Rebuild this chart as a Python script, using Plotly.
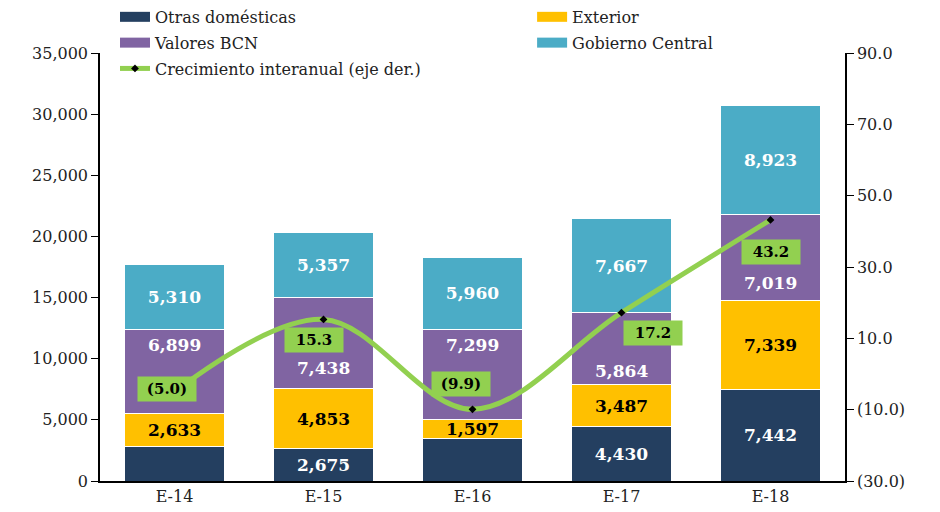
import plotly.graph_objects as go

# Datos (millones)
periodos = ["E-14", "E-15", "E-16", "E-17", "E-18"]
otras_domesticas = [2850, 2675, 3460, 4430, 7442]
exterior = [2633, 4853, 1597, 3487, 7339]
valores_bcn = [6899, 7438, 7299, 5864, 7019]
gobierno_central = [5310, 5357, 5960, 7667, 8923]
crecimiento = [-5.0, 15.3, -9.9, 17.2, 43.2]

# etiquetas que se muestran en las barras
mostrar_otras = [False, True, False, True, True]

y2_ticks = [-30, -10, 10, 30, 50, 70, 90]
y2_ticktext = ["(30.0)", "(10.0)", "10.0", "30.0", "50.0", "70.0", "90.0"]

FONT = "DejaVu Serif"
C_NAVY = "#243F60"
C_AMARILLO = "#FFC000"
C_MORADO = "#8064A2"
C_CELESTE = "#4BACC6"
C_VERDE = "#92D050"


def fmt(v):
    return f"{v:,.0f}"


def fmt_pct(v):
    return f"({abs(v):.1f})" if v < 0 else f"{v:.1f}"


fig = go.Figure()

series = [
    ("Otras domésticas", otras_domesticas, C_NAVY, "legend"),
    ("Exterior", exterior, C_AMARILLO, "legend2"),
    ("Valores BCN", valores_bcn, C_MORADO, "legend"),
    ("Gobierno Central", gobierno_central, C_CELESTE, "legend2"),
]
textos = [
    [fmt(v) if m else "" for v, m in zip(otras_domesticas, mostrar_otras)],
    [fmt(v) for v in exterior],
    None,  # Valores BCN va con anotaciones
    [fmt(v) for v in gobierno_central],
]
colores_texto = ["white", "black", "white", "white"]

for (nombre, vals, color, leg), txt, ctxt in zip(series, textos, colores_texto):
    fig.add_trace(go.Bar(
        x=periodos, y=vals, name=nombre, showlegend=False,
        marker=dict(color=color, line=dict(color="white", width=1)),
        text=txt, textposition="inside", insidetextanchor="middle",
        textfont=dict(family=FONT, size=17, color=ctxt, weight="bold"),
    ))

# entradas de leyenda con rectangulo ancho (como en el original)
for i, (nombre, vals, color, leg) in enumerate(series):
    fig.add_trace(go.Scatter(
        x=[None], y=[None], mode="lines", name=nombre,
        line=dict(color=color, width=10),
        legend=leg, legendgroup=f"g{i}",
    ))

fig.add_trace(go.Scatter(
    x=periodos, y=crecimiento, name="Crecimiento interanual (eje der.)",
    yaxis="y2", mode="lines+markers",
    line=dict(color=C_VERDE, width=5, shape="spline", smoothing=1.0),
    marker=dict(symbol="diamond", size=6, color="black"),
    legend="legend", legendgroup="g9",
))

# etiquetas de Valores BCN (desplazadas para no chocar con la linea)
desplaz_valores = [27, -25, 30, -23, -26]
for i, p in enumerate(periodos):
    base = otras_domesticas[i] + exterior[i]
    fig.add_annotation(
        x=p, y=base + valores_bcn[i] / 2, xref="x", yref="y",
        text=fmt(valores_bcn[i]), showarrow=False, yshift=desplaz_valores[i],
        font=dict(family=FONT, size=17, color="white", weight="bold"),
    )

# etiquetas del crecimiento
desplaz_crec = [(-8, 3), (-10, -21), (-12, 25), (31, -20), (0, -32)]
for i, p in enumerate(periodos):
    dx, dy = desplaz_crec[i]
    fig.add_annotation(
        x=p, y=crecimiento[i], xref="x", yref="y2",
        text=fmt_pct(crecimiento[i]), showarrow=False,
        xshift=dx, yshift=dy, bgcolor=C_VERDE, borderpad=4,
        width=50, height=16,
        font=dict(family=FONT, size=15, color="black", weight="bold"),
    )

# la pagina deja 8px de margen arriba/izquierda
fig.update_layout(
    width=940, height=512,
    margin=dict(l=92, r=103, t=45, b=39, autoexpand=False),
    barmode="stack", bargap=0.335,
    plot_bgcolor="white", paper_bgcolor="white",
    font=dict(family=FONT, size=16, color="#222"),
    uniformtext=dict(minsize=17, mode="show"),
    xaxis=dict(showline=True, linecolor="black", linewidth=1.5, ticks="",
               tickfont=dict(size=16, color="#222")),
    yaxis=dict(range=[0, 35000], dtick=5000, tickformat=",", showgrid=False,
               showline=True, linecolor="black", linewidth=1.5,
               ticks="outside", ticklen=7, tickcolor="black",
               tickfont=dict(size=16, color="#222"), zeroline=False),
    yaxis2=dict(range=[-30, 90], overlaying="y", side="right",
                tickvals=y2_ticks, ticktext=y2_ticktext, showgrid=False,
                showline=True, linecolor="black", linewidth=1.5,
                ticks="outside", ticklen=7, tickcolor="black",
                tickfont=dict(size=16, color="#222"), zeroline=False),
    legend=dict(x=0.0201, y=1.124, xanchor="left", yanchor="top",
                orientation="v", tracegroupgap=2, bgcolor="rgba(0,0,0,0)",
                font=dict(size=16, color="#222")),
    legend2=dict(x=0.580, y=1.124, xanchor="left", yanchor="top",
                 orientation="v", tracegroupgap=2, bgcolor="rgba(0,0,0,0)",
                 font=dict(size=16, color="#222")),
)

fig.write_html("out.html")
